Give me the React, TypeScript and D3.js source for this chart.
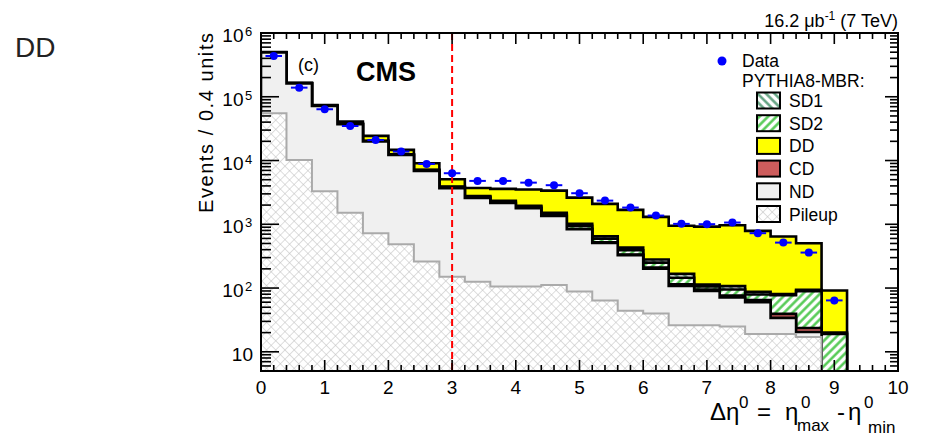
import React from 'react';
import * as d3 from 'd3';

// ---- data ----
const binLow = [0, 0.4, 0.8, 1.2, 1.6, 2.0, 2.4, 2.8, 3.2, 3.6, 4.0, 4.4, 4.8, 5.2, 5.6, 6.0, 6.4, 6.8, 7.2, 7.6, 8.0, 8.4, 8.8];
const binWidth = 0.4;
const pileup = [55000, 10200, 3300, 1510, 725, 488, 260, 151, 126, 106, 106, 112, 88, 64, 44, 40, 26, 26, 25, 19, 19, 17, 0];
const nd = [440000, 152000, 68200, 35500, 19100, 11700, 6610, 3530, 2460, 2050, 1680, 1240, 750, 447, 284, 162, 82, 64, 46, 41, 15, 3.4, 0];
const cd = [500, 300, 200, 150, 100, 80, 60, 40, 30, 25, 20, 15, 12, 10, 8, 7, 6, 5, 5, 5, 5.3, 3.2, 0];
const sd2 = [1500, 800, 500, 350, 240, 180, 150, 120, 90, 90, 90, 90, 100, 74, 55, 41, 31, 11, 19, 14, 38, 66, 19];
const sd1 = [1500, 700, 400, 250, 160, 120, 100, 80, 60, 60, 60, 60, 70, 55, 40, 30, 22, 7, 12, 8, 3, 4, 1];
const dd = [5500, 2200, 1700, 2950, 4000, 2120, 1900, 1170, 950, 1255, 1560, 1860, 1600, 1440, 1249, 1026, 783, 807, 861, 702, 562, 411, 71.5];
const dataValues = [436000, 139000, 63700, 34800, 21000, 13800, 8850, 6320, 4790, 4790, 4500, 4100, 3070, 2350, 1830, 1370, 1015, 1004, 1065, 725, 516, 360, 64];
const xTickValues = [0, 1, 2, 3, 4, 5, 6, 7, 8, 9, 10];
const yDecadeExponents = [1, 2, 3, 4, 5, 6];
const legendLabels = ['SD1', 'SD2', 'DD', 'CD', 'ND', 'Pileup'];
const cutValue = 3;

const FONT = "'Liberation Sans', Arial, Helvetica, sans-serif";

export default function App() {
  const L = 261, R = 898, T = 33, B = 371;
  const x = d3.scaleLinear().domain([0, 10]).range([L, R]);
  const y = d3.scaleLog().domain([5, 1e6]).range([B, T]);
  const yv = (v: number) => y(Math.max(v, 3));

  // stacking bottom -> top
  const comps = [pileup, nd, cd, sd2, sd1, dd];
  const fills = ['url(#pilePat)', '#f0f0f0', '#cd5c5c', 'url(#sd2Pat)', 'url(#sd1Pat)', '#ffff00'];
  const strokes = ['#aaaaaa', '#000', '#000', '#000', '#000', '#000'];
  const strokeW = [2, 2.6, 2.6, 2.6, 2.6, 2.6];
  let acc = binLow.map(() => 0);
  const levels = comps.map((c) => {
    acc = acc.map((a, i) => a + c[i]);
    return acc;
  });

  const stepPath = (vals: number[]) => {
    const p = d3.path();
    p.moveTo(x(binLow[0]), yv(0));
    vals.forEach((v, i) => {
      p.lineTo(x(binLow[i]), yv(v));
      p.lineTo(x(binLow[i] + binWidth), yv(v));
    });
    p.lineTo(x(binLow[binLow.length - 1] + binWidth), yv(0));
    p.closePath();
    return p.toString();
  };

  const order = [5, 4, 3, 2, 1, 0];

  const minorX = d3.range(0, 10.001, 0.2).filter((v) => Math.abs(v - Math.round(v)) > 1e-6);
  const minorY: number[] = [];
  for (let k = 0; k <= 5; k++) {
    for (let m = 2; m <= 9; m++) {
      const v = m * Math.pow(10, k);
      if (v > 5 && v < 1e6) minorY.push(v);
    }
  }

  const legendFills = ['url(#sd1Pat)', 'url(#sd2Pat)', '#ffff00', '#cd5c5c', '#f0f0f0', 'url(#pilePat)'];
  const legendY0 = 100.5;
  const legendStep = 22.7;

  return (
    <svg width={925} height={437} style={{ position: 'absolute', left: 0, top: 0, background: '#fff' }} fontFamily={FONT}>
      <defs>
        <clipPath id="plotClip">
          <rect x={L} y={T} width={R - L} height={B - T} />
        </clipPath>
        <pattern id="pilePat" patternUnits="userSpaceOnUse" width={6.5} height={6.5} patternTransform="rotate(45)">
          <rect width={6.5} height={6.5} fill="#fff" />
          <line x1={0} y1={0} x2={0} y2={6.5} stroke="#bdbdbd" strokeWidth={1} />
          <line x1={0} y1={0} x2={6.5} y2={0} stroke="#bdbdbd" strokeWidth={1} />
        </pattern>
        <pattern id="sd1Pat" patternUnits="userSpaceOnUse" width={6} height={6} patternTransform="rotate(-45)">
          <rect width={6} height={6} fill="#fff" />
          <line x1={1.5} y1={0} x2={1.5} y2={6} stroke="#5a9e7a" strokeWidth={2.4} />
        </pattern>
        <pattern id="sd2Pat" patternUnits="userSpaceOnUse" width={6} height={6} patternTransform="rotate(45)">
          <rect width={6} height={6} fill="#fff" />
          <line x1={1.5} y1={0} x2={1.5} y2={6} stroke="#4cc84c" strokeWidth={2.4} />
        </pattern>
      </defs>

      {/* side label */}
      <text x={15} y={57} fontSize={28} fill="#222">DD</text>

      {/* stacked histograms */}
      <g clipPath="url(#plotClip)">
        {order.map((li) => (
          <path key={li} d={stepPath(levels[li])} fill={fills[li]} stroke={strokes[li]} strokeWidth={strokeW[li]} strokeLinejoin="miter" />
        ))}
        {/* cut line */}
        <line x1={x(cutValue)} x2={x(cutValue)} y1={T} y2={B} stroke="#ff0000" strokeWidth={2} strokeDasharray="7,4" />
        {/* data */}
        {dataValues.map((v, i) => {
          const cx = x(binLow[i] + binWidth / 2);
          const err = Math.sqrt(v);
          return (
            <g key={i}>
              <line x1={x(binLow[i] + binWidth / 2 - 0.13)} x2={x(binLow[i] + binWidth / 2 + 0.13)} y1={y(v)} y2={y(v)} stroke="#0000ff" strokeWidth={2} />
              <line x1={cx} x2={cx} y1={y(v + err)} y2={y(Math.max(v - err, 1))} stroke="#0000ff" strokeWidth={2} />
              <circle cx={cx} cy={y(v)} r={4} fill="#0000ff" />
            </g>
          );
        })}
      </g>

      {/* frame */}
      <rect x={L} y={T} width={R - L} height={B - T} fill="none" stroke="#000" strokeWidth={2} />

      {/* x ticks */}
      {xTickValues.map((v) => (
        <g key={'xt' + v}>
          <line x1={x(v)} x2={x(v)} y1={B} y2={B - 11} stroke="#000" strokeWidth={1.6} />
          <line x1={x(v)} x2={x(v)} y1={T} y2={T + 11} stroke="#000" strokeWidth={1.6} />
          <text x={x(v)} y={394} fontSize={19} textAnchor="middle" fill="#000">{v}</text>
        </g>
      ))}
      {minorX.map((v, i) => (
        <g key={'xm' + i}>
          <line x1={x(v)} x2={x(v)} y1={B} y2={B - 6} stroke="#000" strokeWidth={1.6} />
          <line x1={x(v)} x2={x(v)} y1={T} y2={T + 6} stroke="#000" strokeWidth={1.6} />
        </g>
      ))}

      {/* y ticks */}
      {yDecadeExponents.map((k) => {
        const ty = y(Math.pow(10, k));
        return (
          <g key={'yt' + k}>
            <line x1={L} x2={L + 18} y1={ty} y2={ty} stroke="#000" strokeWidth={1.6} />
            <line x1={R} x2={R - 13} y1={ty} y2={ty} stroke="#000" strokeWidth={1.6} />
            {k === 1 ? (
              <text x={253} y={ty + 9} fontSize={19} textAnchor="end">10</text>
            ) : (
              <>
                <text x={243.5} y={ty + 9} fontSize={19} textAnchor="end">10</text>
                <text x={245} y={ty + 3} fontSize={13}>{k}</text>
              </>
            )}
          </g>
        );
      })}
      {minorY.map((v, i) => (
        <g key={'ym' + i}>
          <line x1={L} x2={L + 10} y1={y(v)} y2={y(v)} stroke="#000" strokeWidth={1.6} />
          <line x1={R} x2={R - 8} y1={y(v)} y2={y(v)} stroke="#000" strokeWidth={1.6} />
        </g>
      ))}

      {/* axis titles */}
      <text transform="translate(213,33) rotate(-90)" fontSize={20} textAnchor="end" textLength={180} lengthAdjust="spacing">Events / 0.4 units</text>
      <g fontSize={24}>
        <text x={710} y={420}>Δη</text>
        <text x={739} y={408} fontSize={17}>0</text>
        <text x={757} y={420}>=</text>
        <text x={785} y={420}>η</text>
        <text x={801} y={408} fontSize={17}>0</text>
        <text x={797} y={431} fontSize={17}>max</text>
        <text x={837} y={420}>-</text>
        <text x={848} y={420}>η</text>
        <text x={864} y={408} fontSize={17}>0</text>
        <text x={868} y={433} fontSize={17}>min</text>
      </g>

      {/* top-right label */}
      <text x={898} y={27} fontSize={18} textAnchor="end">
        <tspan>16.2 μb</tspan>
        <tspan fontSize={12} dy={-7}>-1</tspan>
        <tspan dy={7}> (7 TeV)</tspan>
      </text>

      {/* panel labels */}
      <text x={298} y={71} fontSize={18}>(c)</text>
      <text x={356} y={81} fontSize={27} fontWeight="bold">CMS</text>

      {/* legend */}
      <circle cx={722} cy={61} r={4.5} fill="#0000ff" />
      <text x={742} y={67} fontSize={17.5}>Data</text>
      <text x={742} y={87} fontSize={17.5}>PYTHIA8-MBR:</text>
      {legendLabels.map((lab, i) => {
        const cy = legendY0 + i * legendStep;
        return (
          <g key={lab}>
            <rect x={757} y={cy - 8} width={23} height={16} fill={legendFills[i]} stroke="#000" strokeWidth={2} />
            <text x={789} y={cy + 6.5} fontSize={17.5}>{lab}</text>
          </g>
        );
      })}
    </svg>
  );
}
